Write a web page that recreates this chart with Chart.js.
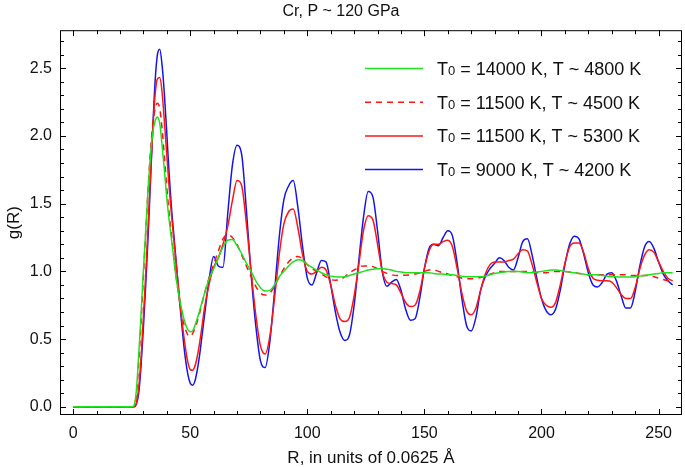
<!DOCTYPE html>
<html>
<head>
<meta charset="utf-8">
<script src="https://cdn.jsdelivr.net/npm/chart.js@4"></script>
<style>html,body{margin:0;padding:0;background:#fff}</style>
</head>
<body>
<canvas id="grChart" width="685" height="467"></canvas>
<script>
// R grid (units of 0.0625 A)
var R = [0, 10, 20, 24,
  25, 26, 27, 28, 29, 30, 31, 32, 33, 34, 35, 36, 37, 38, 39, 40,
  41, 42, 43, 44, 45, 46, 47, 48, 49, 50, 51, 52, 53, 54, 55, 56,
  58, 60, 62, 64, 66, 68, 70, 72, 74, 76,
  78, 80, 82, 84, 86, 88, 90, 92, 94, 96,
  98, 100, 102, 104, 106, 108, 110, 112, 114, 116,
  118, 120, 122, 124, 126, 128, 130, 132, 134, 136,
  138, 140, 142, 144, 146, 148, 150, 152, 154, 156,
  158, 160, 162, 164, 166, 168, 170, 172, 174, 176,
  178, 180, 182, 184, 186, 188, 190, 192, 194, 196,
  198, 200, 202, 204, 206, 208, 210, 212, 214, 216,
  218, 220, 222, 224, 226, 228, 230, 232, 234, 236,
  238, 240, 242, 244, 246, 248, 250, 252, 254, 256];

// T0 = 14000 K, T ~ 4800 K
var gGreen = [0, 0, 0, 0,
  0, 0.01, 0.12, 0.38, 0.68, 1.0, 1.3, 1.6, 1.85, 2.02, 2.11, 2.14, 2.09, 1.93, 1.74, 1.54,
  1.38, 1.24, 1.09, 0.95, 0.84, 0.75, 0.67, 0.61, 0.57, 0.555, 0.56, 0.6, 0.65, 0.71, 0.77, 0.83,
  0.94, 1.02, 1.1, 1.18, 1.23, 1.235, 1.19, 1.13, 1.06, 1.0,
  0.93, 0.88, 0.855, 0.86, 0.9, 0.96, 1.0, 1.04, 1.07, 1.085,
  1.08, 1.05, 1.03, 1.01, 0.99, 0.975, 0.965, 0.96, 0.958, 0.96,
  0.97, 0.98, 0.99, 1.0, 1.01, 1.015, 1.02, 1.02, 1.015, 1.01,
  1.0, 0.995, 0.99, 0.99, 0.99, 0.99, 0.99, 0.99, 0.985, 0.98,
  0.98, 0.975, 0.975, 0.97, 0.965, 0.96, 0.96, 0.96, 0.96, 0.965,
  0.975, 0.985, 0.99, 0.995, 1.0, 1.0, 1.0, 0.995, 0.99, 0.99,
  0.995, 1.0, 1.005, 1.01, 1.01, 1.007, 1.0, 0.995, 0.99, 0.985,
  0.98, 0.975, 0.975, 0.975, 0.97, 0.965, 0.96, 0.96, 0.958, 0.958,
  0.958, 0.96, 0.965, 0.97, 0.975, 0.98, 0.985, 0.99, 0.99, 0.99];

// T0 = 11500 K, T ~ 4500 K (dashed)
var gRedDash = [0, 0, 0, 0,
  0, 0.01, 0.09, 0.32, 0.62, 0.96, 1.28, 1.6, 1.88, 2.08, 2.2, 2.24, 2.2, 2.05, 1.84, 1.62,
  1.43, 1.27, 1.11, 0.96, 0.83, 0.72, 0.63, 0.57, 0.53, 0.52, 0.54, 0.58, 0.63, 0.69, 0.76, 0.83,
  0.95, 1.05, 1.15, 1.24, 1.27, 1.25, 1.2, 1.12, 1.04, 0.96,
  0.89, 0.84, 0.825, 0.84, 0.89, 0.96, 1.02, 1.07, 1.1, 1.11,
  1.09, 1.05, 1.02, 1.0, 0.98, 0.96, 0.94, 0.935, 0.94, 0.96,
  0.99, 1.01, 1.03, 1.04, 1.04, 1.035, 1.02, 1.0, 0.985, 0.975,
  0.97, 0.97, 0.972, 0.975, 0.98, 0.99, 1.0, 1.01, 1.01, 1.0,
  0.99, 0.98, 0.97, 0.96, 0.95, 0.945, 0.945, 0.95, 0.955, 0.965,
  0.98, 0.99, 1.0, 1.0, 1.0, 1.0, 1.0, 1.0, 1.0, 0.995,
  0.99, 0.99, 0.99, 0.995, 1.0, 1.0, 1.0, 0.995, 0.99, 0.985,
  0.98, 0.975, 0.975, 0.975, 0.975, 0.975, 0.975, 0.975, 0.975, 0.975,
  0.97, 0.97, 0.97, 0.97, 0.97, 0.96, 0.95, 0.94, 0.93, 0.925];

// T0 = 11500 K, T ~ 5300 K
var gRed = [0, 0, 0, 0,
  0, 0, 0.03, 0.14, 0.36, 0.66, 0.98, 1.33, 1.7, 2.04, 2.3, 2.42, 2.43, 2.32, 2.1, 1.86,
  1.62, 1.42, 1.24, 1.06, 0.88, 0.71, 0.56, 0.43, 0.33, 0.275, 0.27, 0.3, 0.37, 0.47, 0.59, 0.72,
  0.9, 1.03, 1.1, 1.2, 1.33, 1.52, 1.67, 1.63, 1.35, 1.0,
  0.68, 0.45, 0.39, 0.52, 0.8, 1.12, 1.35, 1.44, 1.46, 1.32,
  1.12, 1.0, 0.98, 1.0, 1.03, 1.01, 0.9, 0.75, 0.65, 0.63,
  0.66, 0.82, 1.05, 1.3, 1.41, 1.38, 1.2, 1.0, 0.92, 0.91,
  0.9, 0.84, 0.77, 0.74, 0.75, 0.85, 1.02, 1.15, 1.2, 1.2,
  1.22, 1.23, 1.18, 1.02, 0.84, 0.71, 0.68, 0.73, 0.86, 0.98,
  1.05, 1.07, 1.07, 1.07, 1.08, 1.09, 1.13, 1.16, 1.15, 1.05,
  0.92, 0.8, 0.75, 0.735, 0.77, 0.9, 1.06, 1.18, 1.21, 1.21,
  1.14, 1.02, 0.95, 0.935, 0.93, 0.93, 0.92, 0.88, 0.83, 0.8,
  0.8, 0.88, 1.02, 1.12, 1.16, 1.14, 1.07, 1.0, 0.95, 0.93];

// T0 = 9000 K, T ~ 4200 K
var gBlue = [0, 0, 0, 0,
  0, 0, 0.02, 0.1, 0.3, 0.58, 0.9, 1.25, 1.65, 2.05, 2.4, 2.6, 2.64, 2.52, 2.3, 2.02,
  1.72, 1.47, 1.27, 1.07, 0.87, 0.68, 0.5, 0.35, 0.24, 0.175, 0.16, 0.19, 0.27, 0.38, 0.52, 0.66,
  0.93, 1.11, 1.04, 1.03, 1.42, 1.78, 1.93, 1.86, 1.45, 0.98,
  0.6, 0.34, 0.29, 0.48, 0.85, 1.25, 1.53, 1.63, 1.67, 1.47,
  1.18, 0.95, 0.9, 0.99, 1.08, 1.07, 0.9, 0.7, 0.55, 0.49,
  0.53, 0.75, 1.08, 1.4, 1.59, 1.55, 1.3, 1.0, 0.89, 0.92,
  0.94, 0.86, 0.72, 0.64, 0.65, 0.8, 1.02, 1.17, 1.2, 1.19,
  1.25, 1.3, 1.26, 1.06, 0.8, 0.6, 0.56, 0.66, 0.86, 0.96,
  1.02, 1.06, 1.1, 1.08, 1.03, 1.01, 1.1, 1.22, 1.24, 1.12,
  0.95, 0.8, 0.71, 0.68, 0.72, 0.86, 1.05, 1.2, 1.26, 1.24,
  1.13, 0.99, 0.9, 0.885, 0.92, 0.98, 0.99, 0.93, 0.82, 0.73,
  0.73, 0.85, 1.04, 1.18, 1.22, 1.17, 1.07, 0.98, 0.93, 0.9];

var seriesLabels = ['T\u2080 = 14000 K, T ~ 4800 K', 'T\u2080 = 11500 K, T ~ 4500 K',
                    'T\u2080 = 11500 K, T ~ 5300 K', 'T\u2080 = 9000 K, T ~ 4200 K'];
var xTicks = [0, 50, 100, 150, 200, 250];
var yTicks = [0, 0.5, 1, 1.5, 2, 2.5];

var fam = '"Liberation Sans", Arial, sans-serif';

function pts(ys) {
  return R.map(function (r, i) { return { x: r, y: ys[i] }; });
}

// frame, inward ticks and legend inside the plot
var framePlugin = {
  id: 'frame',
  afterDatasetsDraw: function (chart) {
    var ctx = chart.ctx, a = chart.chartArea;
    var xs = chart.scales.x, ys = chart.scales.y;
    ctx.save();
    ctx.strokeStyle = '#000';
    ctx.lineWidth = 1;
    ctx.setLineDash([]);
    ctx.strokeRect(a.left + 0.5, a.top + 0.5, a.right - a.left - 1, a.bottom - a.top - 1);
    ctx.beginPath();
    for (var v = 0; v <= 250; v += 10) {
      var px = Math.round(xs.getPixelForValue(v)) + 0.5;
      var len = v % 50 === 0 ? 6 : 4;
      ctx.moveTo(px, a.bottom); ctx.lineTo(px, a.bottom - len);
      ctx.moveTo(px, a.top); ctx.lineTo(px, a.top + len);
    }
    for (var k = 0; k <= 27; k++) {
      var py = Math.round(ys.getPixelForValue(k / 10)) + 0.5;
      var l2 = k % 5 === 0 ? 6 : 4;
      ctx.moveTo(a.left, py); ctx.lineTo(a.left + l2, py);
      ctx.moveTo(a.right, py); ctx.lineTo(a.right - l2, py);
    }
    ctx.stroke();

    // legend
    chart.data.datasets.forEach(function (ds, i) {
      var y = 68.5 + i * 33.7;
      ctx.strokeStyle = ds.borderColor;
      ctx.lineWidth = 1.5;
      ctx.setLineDash(ds.borderDash || []);
      ctx.beginPath();
      ctx.moveTo(365, y); ctx.lineTo(423, y);
      ctx.stroke();
      ctx.setLineDash([]);
      var parts = ds.label.split('\u2080');
      ctx.fillStyle = '#111';
      ctx.textBaseline = 'alphabetic';
      var base = y + 6.5, x = 437;
      ctx.font = '18px ' + fam;
      ctx.fillText(parts[0], x, base);
      x += ctx.measureText(parts[0]).width;
      ctx.font = '13px ' + fam;
      ctx.fillText('0', x, base);
      x += ctx.measureText('0').width;
      ctx.font = '18px ' + fam;
      ctx.fillText(parts[1], x, base);
    });
    ctx.restore();
  }
};

var ctx = document.getElementById('grChart').getContext('2d');
var chart = new Chart(ctx, {
  type: 'line',
  data: {
    datasets: [
      { label: seriesLabels[0], data: pts(gGreen), borderColor: 'rgb(30,225,30)' },
      { label: seriesLabels[1], data: pts(gRedDash), borderColor: 'rgb(255,20,20)', borderDash: [6, 5] },
      { label: seriesLabels[2], data: pts(gRed), borderColor: 'rgb(255,20,20)' },
      { label: seriesLabels[3], data: pts(gBlue), borderColor: 'rgb(20,20,235)' }
    ]
  },
  options: {
    responsive: false,
    animation: false,
    devicePixelRatio: 1,
    layout: { padding: { right: 3 } },
    elements: {
      point: { radius: 0 },
      line: { borderWidth: 1.5, cubicInterpolationMode: 'monotone', fill: false }
    },
    plugins: {
      legend: { display: false },
      tooltip: { enabled: false },
      title: {
        display: true,
        text: 'Cr, P ~ 120 GPa',
        color: '#111',
        font: { family: fam, size: 16, weight: 'normal' },
        padding: { top: 2, bottom: 9 }
      }
    },
    scales: {
      x: {
        type: 'linear',
        min: -5.6,
        max: 260,
        grid: { display: false, drawTicks: false },
        border: { display: false },
        afterBuildTicks: function (s) { s.ticks = xTicks.map(function (v) { return { value: v }; }); },
        afterFit: function (s) { s.height = 52; },
        ticks: { color: '#111', font: { family: fam, size: 16 }, padding: 9, maxRotation: 0 },
        title: {
          display: true,
          text: 'R, in units of 0.0625 \u00c5',
          color: '#111',
          font: { family: fam, size: 17 },
          padding: { top: 0, bottom: -2 }
        }
      },
      y: {
        min: -0.06,
        max: 2.78,
        grid: { display: false, drawTicks: false },
        border: { display: false },
        afterBuildTicks: function (s) { s.ticks = yTicks.map(function (v) { return { value: v }; }); },
        afterFit: function (s) { s.width = 60; },
        ticks: {
          color: '#111',
          font: { family: fam, size: 16 },
          padding: 8,
          callback: function (v) { return v.toFixed(1); }
        },
        title: {
          display: true,
          text: 'g(R)',
          color: '#111',
          font: { family: fam, size: 17 },
          padding: { top: 4, bottom: 0 }
        }
      }
    }
  },
  plugins: [framePlugin]
});
</script>
</body>
</html>
